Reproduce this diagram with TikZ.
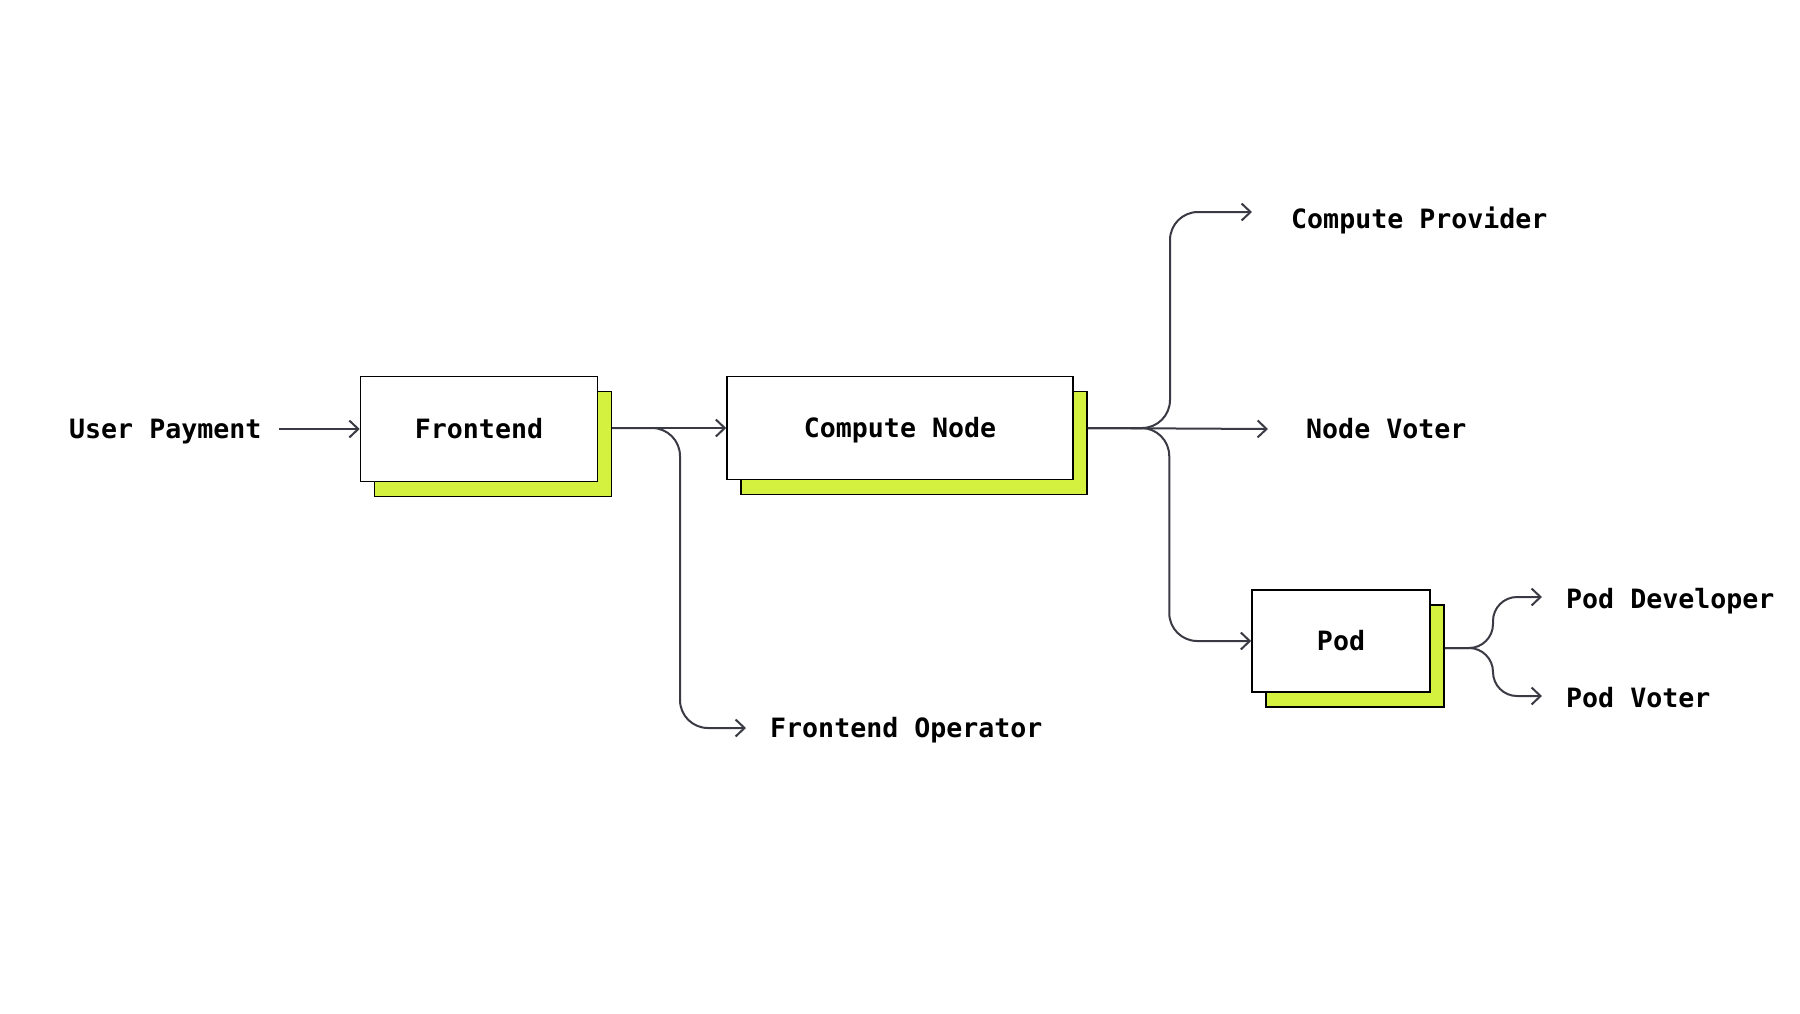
\documentclass[tikz,border=0pt]{standalone}
\usepackage{fontspec}
\newfontfamily\diagmono{DejaVu Sans Mono}
\usetikzlibrary{arrows.meta,shadows}
\definecolor{limefill}{RGB}{212,241,64}
\definecolor{wire}{RGB}{58,58,68}

\begin{document}
\begin{tikzpicture}[x=1pt, y=-1pt,
    blk/.style={draw=black, line width=1.5pt, fill=white, inner sep=0pt, align=center,
        text height=19pt, text depth=0pt,
        font=\diagmono\bfseries\fontsize{26.6}{30}\selectfont,
        general shadow={draw=black, line width=1.5pt, fill=limefill, shadow xshift=14pt, shadow yshift=-15pt}},
    lbl/.style={anchor=west, inner sep=0pt, text height=19pt, text depth=0pt,
        font=\diagmono\bfseries\fontsize{26.6}{30}\selectfont},
    arr/.style={-{Straight Barb[length=9pt, width=17pt]}, draw=wire, line width=2pt}
]
\useasboundingbox (0,0) rectangle (1800,1013);

\node[lbl] (pay) at (69,429) {User Payment};
\node[blk, minimum width=237pt, minimum height=105pt] (fe) at (479,429) {Frontend};
\node[blk, minimum width=346pt, minimum height=103pt] (cn) at (900,428) {Compute Node};
\node[blk, minimum width=178pt, minimum height=102pt] (pod) at (1341,641) {Pod};
\node[lbl] (fop) at (770,728) {Frontend Operator};
\node[lbl] (prov) at (1291,219) {Compute Provider};
\node[lbl] (nvote) at (1306,429) {Node Voter};
\node[lbl] (pdev) at (1566,599) {Pod Developer};
\node[lbl] (pvote) at (1566,698) {Pod Voter};

\draw[arr] ([xshift=17pt]pay.east) -- (fe.west);
\draw[arr] ([xshift=14pt,yshift=1pt]fe.east) -- (cn.west);
\draw[arr, rounded corners=28pt] ([xshift=14pt,yshift=1pt]fe.east) -| ([xshift=-90pt]fop.west) -- ([xshift=-24pt]fop.west);
\draw[arr] ([xshift=14pt]cn.east) -- ([xshift=-38pt]nvote.west);
\draw[arr, rounded corners=28pt] ([xshift=14pt]cn.east) -| ([xshift=-121pt,yshift=7pt]prov.west) -- ([xshift=-39pt,yshift=7pt]prov.west);
\draw[arr, rounded corners=28pt] ([xshift=14pt]cn.east) -| ([xshift=-82pt]pod.west) -- (pod.west);
\draw[arr, rounded corners=24pt] ([xshift=14pt,yshift=-7pt]pod.east) -| ([xshift=-73pt,yshift=2pt]pdev.west) -- ([xshift=-24pt,yshift=2pt]pdev.west);
\draw[arr, rounded corners=24pt] ([xshift=14pt,yshift=-7pt]pod.east) -| ([xshift=-73pt,yshift=2pt]pvote.west) -- ([xshift=-24pt,yshift=2pt]pvote.west);
\end{tikzpicture}
\end{document}
